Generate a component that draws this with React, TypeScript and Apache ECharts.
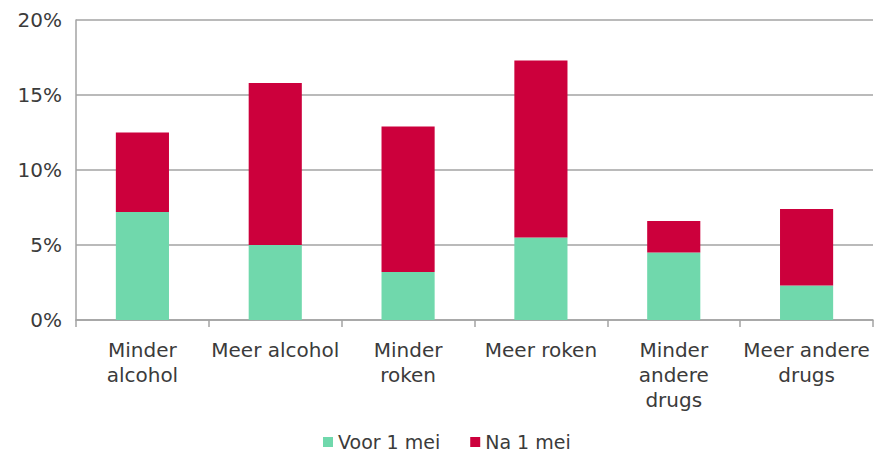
import React, { useEffect, useRef } from "react";
import * as echarts from "echarts";

const categories = [
  "Minder\nalcohol",
  "Meer alcohol",
  "Minder\nroken",
  "Meer roken",
  "Minder\nandere\ndrugs",
  "Meer andere\ndrugs",
];
const voor1Mei = [7.2, 5.0, 3.2, 5.5, 4.5, 2.3];
const na1Mei = [5.3, 10.8, 9.7, 11.8, 2.1, 5.1];
const seriesNames = ["Voor 1 mei", "Na 1 mei"];
const yTicks = { min: 0, max: 20, interval: 5 };

const FONT = "DejaVu Sans";
const TEXT = "#3b3b3b";
const LINE = "#a3a3a3";

export default function App() {
  const ref = useRef<HTMLDivElement>(null);
  useEffect(() => {
    if (!ref.current) return;
    const chart = echarts.init(ref.current, undefined, { renderer: "svg" });
    chart.setOption({
      animation: false,
      backgroundColor: "#ffffff",
      textStyle: { fontFamily: FONT },
      grid: { left: 76, right: 2, top: 20, bottom: 135, containLabel: false },
      legend: {
        left: 323,
        top: 432,
        padding: 0,
        itemWidth: 10,
        itemHeight: 10,
        itemGap: 30,
        icon: "rect",
        textStyle: { fontSize: 19, lineHeight: 20, color: TEXT, fontFamily: FONT },
        data: seriesNames,
      },
      xAxis: {
        type: "category",
        data: categories,
        axisLine: { show: true, lineStyle: { color: LINE, width: 1.5 } },
        axisTick: { show: true, length: 7, alignWithLabel: false, lineStyle: { color: LINE, width: 1.5 } },
        axisLabel: {
          interval: 0,
          margin: 17,
          fontSize: 20,
          lineHeight: 25,
          color: TEXT,
          fontFamily: FONT,
        },
      },
      yAxis: {
        type: "value",
        min: yTicks.min,
        max: yTicks.max,
        interval: yTicks.interval,
        axisLine: { show: true, lineStyle: { color: LINE, width: 1.5 } },
        axisTick: { show: false },
        splitLine: { show: true, lineStyle: { color: LINE, width: 1.5 } },
        axisLabel: {
          formatter: "{value}%",
          fontSize: 20,
          margin: 14,
          color: TEXT,
          fontFamily: FONT,
        },
      },
      series: [
        {
          name: seriesNames[0],
          type: "bar",
          stack: "total",
          data: voor1Mei,
          barWidth: "40%",
          itemStyle: { color: "#70d8ac" },
        },
        {
          name: seriesNames[1],
          type: "bar",
          stack: "total",
          data: na1Mei,
          barWidth: "40%",
          itemStyle: { color: "#cc003c" },
        },
      ],
    });
    return () => chart.dispose();
  }, []);
  return (
    <div
      ref={ref}
      style={{ position: "fixed", left: 0, top: 0, width: 875, height: 455 }}
    />
  );
}
